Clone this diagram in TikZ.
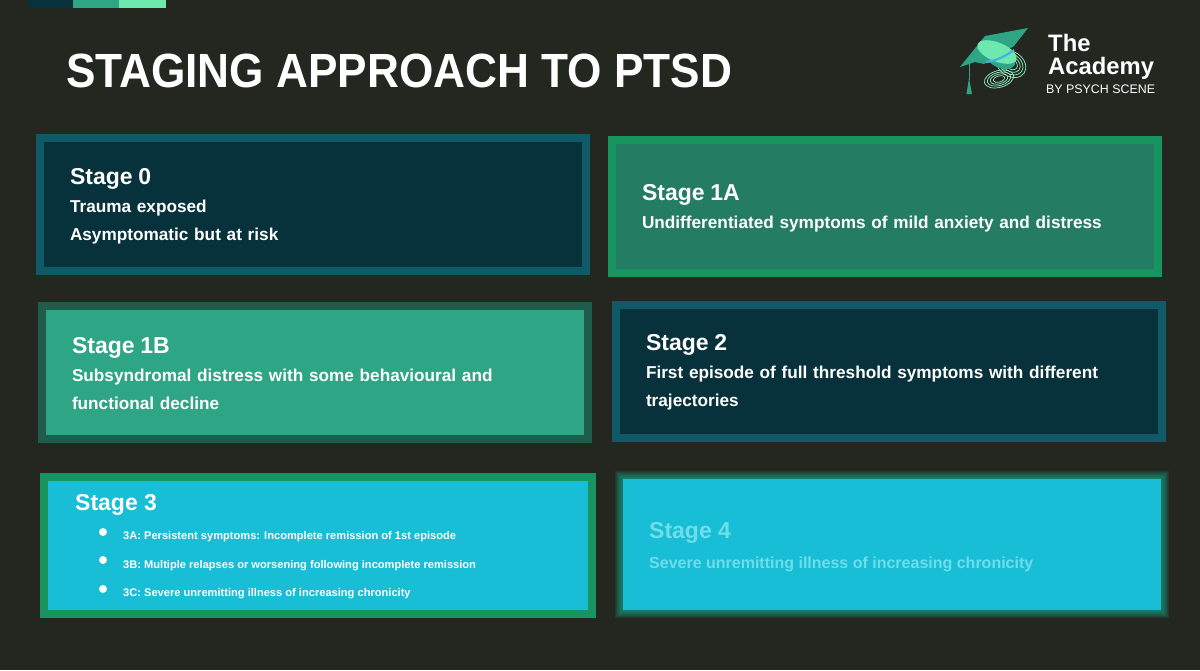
\documentclass[tikz,border=0pt]{standalone}
\usepackage{fontspec}
\setmainfont{Liberation Sans}
\newfontfamily\narrowfont[FakeStretch=0.92]{Liberation Sans}
\definecolor{bgdark}{HTML}{23271F}
\definecolor{navyfill}{HTML}{07323C}
\definecolor{navyline}{HTML}{0F5A66}
\definecolor{greenfill}{HTML}{247C62}
\definecolor{greenline}{HTML}{17945F}
\definecolor{mintfill}{HTML}{2EA585}
\definecolor{mintline}{HTML}{1F5C4C}
\definecolor{cyanfill}{HTML}{17BED6}
\definecolor{lightmint}{HTML}{6FE8B0}
\definecolor{skyblue}{HTML}{3FB4DC}
\definecolor{paletext}{HTML}{6FDDEA}
\newcommand{\stagehead}[1]{{\fontsize{23}{28}\selectfont\rule{0pt}{19pt}#1}}
\begin{document}
\begin{tikzpicture}[x=1pt,y=-1pt]
      \tikzset{box/.style={draw, line width=8pt, minimum width=546pt, minimum height=133pt, text=white, text width=486pt, align=left, inner sep=0pt, font=\bfseries\fontsize{17.2}{28}\selectfont},
        label3/.style={anchor=west, inner sep=0pt, text=white, font=\bfseries\fontsize{11.1}{14}\selectfont},
        dot/.style={circle, fill=white, inner sep=0pt, minimum size=8pt}}
      \useasboundingbox (0,0) rectangle (1200,670);
      \fill[bgdark] (0,0) rectangle (1200,670);
      \fill[navyfill] (28,0) rectangle (73,8);
      \fill[mintfill] (73,0) rectangle (119,8);
      \fill[lightmint] (119,0) rectangle (166,8);
      \node[anchor=west, inner sep=0pt, text=white, font=\narrowfont\bfseries\fontsize{48}{50}\selectfont] (title) at (66,71) {STAGING APPROACH TO PTSD};
      \node[box, draw=navyline, fill=navyfill] (stage0) at (313,204.5) {\stagehead{Stage 0}\\Trauma exposed\\Asymptomatic but at risk};
      \node[box, draw=greenline, fill=greenfill] (stage1a) at (885,206.5) {\stagehead{Stage 1A}\\Undifferentiated symptoms of mild anxiety and distress};
      \node[box, draw=mintline, fill=mintfill] (stage1b) at (315,372) {\stagehead{Stage 1B}\\Subsyndromal distress with some behavioural and\\functional decline};
      \node[box, draw=navyline, fill=navyfill] (stage2) at (889,371) {\stagehead{Stage 2}\\First episode of full threshold symptoms with different\\trajectories};
      \node[box, draw=greenline, fill=cyanfill, minimum width=548pt, minimum height=137pt] (stage3) at (318,545.5) {};
      \node[anchor=west, inner sep=0pt, text=white, font=\bfseries\fontsize{23}{28}\selectfont] (head3) at (75,505) {Stage 3};
      \node[dot] (dot3a) at (103,532) {};
      \node[dot] (dot3b) at (103,560) {};
      \node[dot] (dot3c) at (103,589) {};
      \node[label3] (item3a) at (123,537) {3A: Persistent symptoms: Incomplete remission of 1st episode};
      \node[label3] (item3b) at (123,566) {3B: Multiple relapses or worsening following incomplete remission};
      \node[label3] (item3c) at (123,594) {3C: Severe unremitting illness of increasing chronicity};
      \foreach \i in {8,7,...,1}
        \fill[greenline!70!cyanfill, opacity=0.14] (623-\i,479-\i) rectangle (1161+\i,610+\i);
      \fill[cyanfill] (623,479) rectangle (1161,610);
      \node[anchor=west, inner sep=0pt, text=paletext, font=\bfseries\fontsize{23}{28}\selectfont] (head4) at (649,533) {Stage 4};
      \node[anchor=west, inner sep=0pt, text=paletext, font=\bfseries\fontsize{16}{28}\selectfont] (text4) at (649,564) {Severe unremitting illness of increasing chronicity};
      \node[anchor=west, align=left, inner sep=0pt, text=white, font=\bfseries\fontsize{23.8}{23}\selectfont] (logoname) at (1048,57) {The\\Academy};
      \node[anchor=west, inner sep=0pt, text=white, font=\fontsize{12.4}{14}\selectfont] (logotag) at (1046,89) {BY PSYCH SCENE};
      \foreach \r in {0,3,6,9} {
        \draw[lightmint!75, line width=0.7pt, rotate around={-35:(1011,64)}] (1011,64) ellipse ({7+\r} and {5+\r*0.8});
        \draw[lightmint!75, line width=0.7pt, rotate around={15:(999,79)}] (999,79) ellipse ({6+\r} and {3+\r*0.6});
      }
      \fill[mintfill] (960,67) -- (985,36) -- (1028,28) -- (1014,46) -- (984,64) -- (975,62) -- cycle;
      \draw[mintfill, line width=1pt] (969,64) -- (969,80);
      \fill[mintfill] (969,78) -- (972,94) -- (966.5,94) -- cycle;
      \fill[mintfill, rotate around={-22:(1001,59)}] (1001,59) ellipse (15 and 9);
      \fill[lightmint, rotate around={-22:(997,52)}] (997,52) ellipse (21 and 9.5);
      \draw[skyblue, line width=2.2pt] (986,62) .. controls (996,61) and (1006,56) .. (1014,50);
\end{tikzpicture}
\end{document}
